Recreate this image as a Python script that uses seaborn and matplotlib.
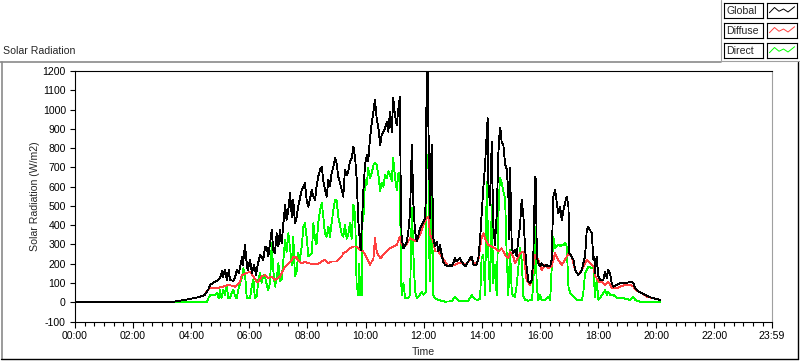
import numpy as np
import pandas as pd
import seaborn as sns
import matplotlib.pyplot as plt
from matplotlib.lines import Line2D
from matplotlib.ticker import FixedLocator

# ---- data (time in decimal hours, radiation in W/m2) ----
global_hour = [
    0.00, 3.27, 3.79, 4.30, 4.47, 4.58, 4.65, 4.75, 4.89, 4.99, 5.06, 5.09, 5.16, 5.23, 5.30, 5.33,
    5.44, 5.51, 5.57, 5.64, 5.68, 5.75, 5.78, 5.85, 5.92, 5.95, 6.02, 6.09, 6.16, 6.23, 6.30, 6.37,
    6.42, 6.48, 6.54, 6.60, 6.65, 6.71, 6.77, 6.82, 6.88, 6.94, 7.00, 7.05, 7.11, 7.17, 7.23, 7.28,
    7.34, 7.40, 7.46, 7.51, 7.57, 7.63, 7.68, 7.80, 7.86, 7.91, 7.97, 8.03, 8.15, 8.20, 8.26, 8.31,
    8.37, 8.43, 8.49, 8.54, 8.60, 8.66, 8.72, 8.77, 8.83, 8.89, 8.95, 9.00, 9.06, 9.12, 9.18, 9.23,
    9.29, 9.35, 9.40, 9.46, 9.52, 9.58, 9.64, 9.69, 9.75, 9.81, 9.83, 9.87, 9.92, 9.98, 10.04, 10.09,
    10.15, 10.21, 10.27, 10.32, 10.38, 10.44, 10.50, 10.55, 10.61, 10.67, 10.73, 10.78, 10.84, 10.90,
    10.95, 11.01, 11.07, 11.13, 11.18, 11.21, 11.24, 11.30, 11.36, 11.42, 11.47, 11.53, 11.59, 11.64,
    11.70, 11.76, 11.82, 11.87, 11.93, 11.99, 12.04, 12.07, 12.10, 12.14, 12.16, 12.18, 12.22, 12.27,
    12.33, 12.39, 12.45, 12.50, 12.56, 12.62, 12.67, 12.73, 12.85, 12.90, 12.96, 13.08, 13.13, 13.25,
    13.30, 13.42, 13.47, 13.59, 13.65, 13.71, 13.82, 13.88, 13.94, 13.99, 14.05, 14.11, 14.17, 14.20,
    14.22, 14.28, 14.34, 14.39, 14.45, 14.51, 14.57, 14.62, 14.65, 14.68, 14.74, 14.80, 14.85, 14.91,
    14.94, 14.97, 15.03, 15.08, 15.14, 15.20, 15.25, 15.31, 15.37, 15.43, 15.49, 15.54, 15.60, 15.66,
    15.72, 15.77, 15.83, 15.86, 15.89, 15.94, 16.00, 16.06, 16.17, 16.23, 16.29, 16.35, 16.40, 16.46,
    16.52, 16.58, 16.63, 16.69, 16.75, 16.81, 16.86, 16.92, 16.98, 17.01, 17.09, 17.15, 17.21, 17.32,
    17.38, 17.44, 17.49, 17.55, 17.61, 17.66, 17.72, 17.78, 17.84, 17.87, 17.89, 17.95, 18.01, 18.07,
    18.18, 18.24, 18.30, 18.35, 18.41, 18.47, 18.52, 18.64, 18.76, 18.87, 19.03, 19.16, 19.21, 19.27,
    19.39, 19.56, 19.73, 19.90, 20.13,
]
global_wm2 = [
    0, 0, 12, 28, 38, 64, 90, 100, 111, 126, 162, 131, 168, 116, 168, 116,
    111, 131, 168, 152, 183, 235, 194, 297, 183, 168, 220, 152, 194, 141, 204, 245,
    237, 220, 289, 280, 237, 306, 375, 271, 254, 358, 289, 375, 306, 410, 505, 427,
    479, 566, 444, 531, 410, 444, 496, 583, 600, 618, 531, 496, 583, 548, 531, 600,
    652, 687, 704, 635, 583, 548, 635, 600, 670, 704, 747, 721, 652, 618, 583, 548,
    687, 661, 678, 730, 747, 808, 747, 644, 418, 297, 271, 401, 574, 713, 764, 730,
    851, 929, 989, 1050, 955, 903, 816, 868, 885, 903, 937, 885, 989, 885,
    1059, 972, 920, 1007, 1067, 540, 332, 280, 297, 315, 366, 470, 816, 522,
    366, 315, 349, 384, 401, 418, 436, 531, 1180, 1197, 920, 764, 436, 816,
    332, 289, 315, 263, 297, 245, 211, 194, 185, 194, 185, 228, 211, 228,
    211, 185, 194, 228, 237, 194, 194, 228, 332, 453, 592, 713, 885, 955,
    626, 505, 834, 401, 297, 453, 782, 903, 885, 834, 816, 713, 695, 574,
    330, 695, 280, 254, 271, 237, 323, 392, 531, 444, 271, 185, 107, 99,
    116, 237, 652, 635, 237, 202, 185, 202, 185, 194, 185, 185, 220, 548,
    583, 514, 462, 496, 427, 479, 514, 548, 496, 254, 237, 220, 168, 141,
    151, 168, 202, 237, 375, 392, 375, 358, 220, 237, 151, 237, 133, 116,
    116, 159, 125, 168, 151, 99, 81, 90, 99, 99, 102, 107, 99, 73,
    55, 43, 29, 21, 12,
]

diffuse_hour = [
    0.00, 3.27, 3.79, 4.30, 4.47, 4.53, 4.65, 4.88, 5.10, 5.28, 5.51, 5.68, 5.74, 5.91, 6.02, 6.14,
    6.25, 6.31, 6.42, 6.54, 6.65, 6.77, 6.88, 7.05, 7.23, 7.34, 7.46, 7.51, 7.57, 7.68, 7.80, 7.91,
    8.03, 8.15, 8.37, 8.49, 8.60, 8.72, 8.83, 9.00, 9.18, 9.23, 9.35, 9.46, 9.58, 9.69, 9.81, 9.92,
    10.04, 10.15, 10.27, 10.32, 10.38, 10.50, 10.61, 10.73, 10.84, 10.95, 11.07, 11.18, 11.24, 11.36,
    11.53, 11.64, 11.76, 11.87, 11.99, 12.10, 12.16, 12.22, 12.33, 12.39, 12.50, 12.62, 12.73, 12.85,
    12.96, 13.08, 13.19, 13.30, 13.42, 13.53, 13.65, 13.76, 13.88, 13.99, 14.05, 14.11, 14.22, 14.34,
    14.45, 14.57, 14.68, 14.80, 14.91, 14.97, 15.08, 15.14, 15.20, 15.31, 15.43, 15.54, 15.66, 15.72,
    15.77, 15.83, 15.94, 16.06, 16.17, 16.29, 16.40, 16.52, 16.63, 16.75, 16.86, 16.98, 17.09, 17.21,
    17.32, 17.44, 17.61, 17.72, 17.84, 17.89, 18.01, 18.13, 18.24, 18.35, 18.47, 18.64, 18.81, 18.98,
    19.10, 19.21, 19.33, 19.50, 19.67, 19.90, 20.13,
]
diffuse_wm2 = [
    0, 0, 12, 28, 38, 55, 73, 73, 81, 90, 81, 107, 141, 151, 159, 133,
    107, 107, 133, 141, 125, 133, 116, 133, 185, 202, 220, 237, 237, 220, 202, 211,
    202, 199, 199, 211, 220, 202, 211, 211, 237, 254, 263, 280, 289, 289, 271, 263,
    228, 194, 228, 332, 263, 228, 245, 263, 280, 289, 297, 340, 297, 289,
    332, 323, 315, 349, 401, 436, 444, 349, 315, 263, 263, 237, 211, 185,
    194, 194, 202, 202, 194, 211, 228, 194, 220, 332, 358, 332, 297, 289,
    280, 263, 280, 245, 228, 263, 237, 202, 220, 254, 263, 116, 90, 116,
    185, 245, 220, 168, 194, 176, 185, 254, 220, 194, 220, 254, 237, 168,
    141, 168, 220, 202, 185, 141, 107, 107, 90, 107, 73, 73, 85, 90,
    90, 81, 60, 47, 29, 21, 12,
]

direct_hour = [
    0.00, 4.53, 4.59, 4.65, 4.80, 4.88, 4.94, 4.99, 5.04, 5.10, 5.16, 5.22, 5.28, 5.33, 5.39, 5.45,
    5.51, 5.56, 5.62, 5.68, 5.74, 5.79, 5.85, 5.91, 6.02, 6.08, 6.14, 6.19, 6.25, 6.31, 6.37, 6.42,
    6.48, 6.54, 6.60, 6.65, 6.71, 6.77, 6.82, 6.88, 6.94, 7.00, 7.05, 7.11, 7.23, 7.28, 7.34, 7.40,
    7.46, 7.51, 7.57, 7.63, 7.68, 7.74, 7.80, 7.86, 7.91, 7.97, 8.03, 8.15, 8.20, 8.26, 8.31, 8.37,
    8.43, 8.49, 8.54, 8.60, 8.66, 8.72, 8.77, 8.83, 8.89, 8.95, 9.00, 9.06, 9.12, 9.18, 9.23, 9.29,
    9.35, 9.40, 9.46, 9.52, 9.58, 9.64, 9.69, 9.75, 9.78, 9.81, 9.87, 9.90, 9.92, 9.98, 10.04, 10.09,
    10.15, 10.21, 10.27, 10.32, 10.38, 10.44, 10.50, 10.55, 10.61, 10.67, 10.73, 10.78, 10.84, 10.90,
    10.95, 11.01, 11.07, 11.13, 11.18, 11.21, 11.24, 11.30, 11.36, 11.47, 11.53, 11.59, 11.64, 11.70,
    11.76, 11.87, 11.93, 11.99, 12.07, 12.10, 12.14, 12.16, 12.18, 12.22, 12.27, 12.33, 12.39, 12.50,
    12.73, 12.96, 13.08, 13.19, 13.30, 13.53, 13.65, 13.76, 13.88, 13.94, 13.99, 14.05, 14.11, 14.17,
    14.22, 14.28, 14.34, 14.39, 14.45, 14.51, 14.57, 14.62, 14.68, 14.74, 14.80, 14.85, 14.91, 14.97,
    15.03, 15.08, 15.14, 15.20, 15.25, 15.31, 15.37, 15.43, 15.49, 15.60, 15.72, 15.77, 15.83, 15.89,
    15.94, 16.00, 16.06, 16.17, 16.29, 16.35, 16.40, 16.46, 16.52, 16.58, 16.63, 16.69, 16.75, 16.81,
    16.86, 16.92, 16.98, 17.04, 17.15, 17.26, 17.44, 17.49, 17.55, 17.61, 17.66, 17.72, 17.78, 17.84,
    17.89, 17.95, 18.01, 18.18, 18.24, 18.30, 18.35, 18.41, 18.52, 18.64, 18.87, 19.10, 19.21, 19.27,
    19.44, 20.13,
]
direct_wm2 = [
    0, 0, 21, 38, 38, 47, 21, 64, 21, 64, 38, 81, 21, 21, 47, 64,
    30, 21, 64, 99, 125, 176, 150, 21, 21, 81, 116, 21, 30, 116, 151, 100,
    140, 133, 90, 64, 100, 306, 170, 81, 120, 202, 110, 120, 323, 260, 358, 280,
    190, 340, 133, 160, 254, 220, 290, 392, 410, 340, 237, 254, 410, 330, 300, 410,
    479, 514, 450, 358, 340, 392, 340, 410, 479, 531, 531, 444, 400, 350, 340, 400,
    330, 349, 410, 330, 505, 453, 90, 38, 200, 38, 38, 574, 420, 635, 610, 695,
    645, 670, 713, 721, 713, 660, 574, 620, 600, 661, 645, 680, 660, 630,
    747, 650, 583, 670, 670, 200, 38, 99, 21, 21, 38, 488, 263, 60,
    21, 38, 55, 38, 55, 764, 730, 713, 300, 107, 574, 38, 21, 12,
    3, 5, 29, 8, 5, 5, 38, 15, 12, 20, 228, 245, 38, 626,
    250, 55, 505, 100, 194, 38, 453, 645, 620, 574, 540, 263, 38, 271,
    47, 30, 29, 90, 170, 280, 220, 29, 12, 8, 12, 90, 392, 81,
    12, 38, 12, 12, 29, 12, 168, 340, 280, 289, 300, 289, 300, 297,
    310, 289, 81, 47, 29, 12, 12, 47, 151, 170, 185, 185, 176, 185,
    29, 116, 12, 47, 64, 38, 55, 38, 38, 24, 21, 12, 29, 12,
    3, 0,
]

series_names = ["Global", "Diffuse", "Direct"]
series_colors = ["#000000", "#ff4040", "#00ff00"]

x_major = [0, 2, 4, 6, 8, 10, 12, 14, 16, 18, 20, 22, 23 + 59 / 60]
x_major_labels = ["00:00", "02:00", "04:00", "06:00", "08:00", "10:00", "12:00",
                  "14:00", "16:00", "18:00", "20:00", "22:00", "23:59"]
y_ticks = list(range(-100, 1201, 100))

df = pd.concat([
    pd.DataFrame({"hour": global_hour, "wm2": global_wm2, "series": "Global"}),
    pd.DataFrame({"hour": diffuse_hour, "wm2": diffuse_wm2, "series": "Diffuse"}),
    pd.DataFrame({"hour": direct_hour, "wm2": direct_wm2, "series": "Direct"}),
], ignore_index=True)

sns.set_theme(style="white")
plt.rcParams['font.family'] = ['Liberation Sans', 'DejaVu Sans']
FS = 7.6

W, H = 800, 361
fig = plt.figure(figsize=(W / 100, H / 100), dpi=100)
fig.patch.set_facecolor("white")


def fx(px):
    return px / W


def fy(py):
    return 1 - py / H


ax = fig.add_axes([fx(75), fy(321.5), (772 - 75) / W, (321.5 - 71) / H])
palette = dict(zip(series_names, series_colors))
# direct drawn first, global on top
sns.lineplot(data=df, x="hour", y="wm2", hue="series", hue_order=["Direct", "Diffuse", "Global"],
             palette=palette, estimator=None, sort=False, legend=False, linewidth=0.6,
             antialiased=False, ax=ax)

ax.set_xlim(0, 23 + 59 / 60)
ax.set_ylim(-100, 1200)
ax.set_facecolor("white")
ax.grid(False)

for side in ["left", "top", "bottom"]:
    ax.spines[side].set_color("black")
    ax.spines[side].set_linewidth(0.8)
ax.spines["right"].set_color("#a0a0a0")
ax.spines["right"].set_linewidth(0.8)

ax.set_yticks(y_ticks)
ax.set_yticklabels([str(v) for v in y_ticks])
ax.xaxis.set_major_locator(FixedLocator(x_major))
ax.set_xticklabels(x_major_labels)
ax.xaxis.set_minor_locator(FixedLocator(list(np.arange(0, 24, 1 / 3))))
ax.tick_params(axis="y", which="major", direction="out", length=3.6, width=0.8,
               colors="black", labelsize=FS, pad=3, left=True)
ax.tick_params(axis="x", which="major", direction="out", length=4.5, width=0.8,
               colors="black", labelsize=FS, pad=2.5, bottom=True)
ax.tick_params(axis="x", which="minor", direction="out", length=2.8, width=0.8,
               colors="black", bottom=True)

ax.set_xlabel("Time", fontsize=FS)
ax.xaxis.label.set_verticalalignment("center")
ax.xaxis.set_label_coords(0.5, (321.5 - 352) / 250.5)
ax.set_ylabel("Solar Radiation (W/m2)", fontsize=FS)
ax.yaxis.label.set_verticalalignment("center")
ax.yaxis.set_label_coords((34.5 - 75) / 697, 0.5)

fig.text(fx(3), fy(51), "Solar Radiation", fontsize=FS, ha="left", va="center")

# outer frame
frame_gray = "#8a8a8a"
fig.add_artist(Line2D([fx(0), fx(721)], [fy(61.5), fy(61.5)], color=frame_gray, lw=1.2))
fig.add_artist(Line2D([fx(1.5), fx(1.5)], [fy(61.5), fy(359)], color=frame_gray, lw=1.2))
fig.add_artist(Line2D([fx(1), fx(798)], [fy(359), fy(359)], color="black", lw=1.0))
fig.add_artist(Line2D([fx(798), fx(798)], [fy(61.5), fy(359)], color="black", lw=1.0))
# legend panel
fig.add_artist(Line2D([fx(721), fx(721)], [fy(0), fy(60.5)], color="#a0a0a0", lw=0.8))
fig.add_artist(Line2D([fx(721), fx(800)], [fy(60.5), fy(60.5)], color="#a0a0a0", lw=0.8))

zig_x = [0.08, 0.25, 0.4, 0.55, 0.7, 0.92]
zig_y = [0.35, 0.7, 0.45, 0.6, 0.4, 0.75]
for i, (name, color) in enumerate(zip(series_names, series_colors)):
    top = 3 + 20 * i
    tax = fig.add_axes([fx(724), fy(top + 15), 39 / W, 15 / H])
    sax = fig.add_axes([fx(767), fy(top + 15), 30 / W, 15 / H])
    for a in (tax, sax):
        a.set_xticks([])
        a.set_yticks([])
        a.set_xlim(0, 1)
        a.set_ylim(0, 1)
        a.set_facecolor("white")
        for s in a.spines.values():
            s.set_color("black")
            s.set_linewidth(0.8)
    tax.text(0.06, 0.45, name, fontsize=FS, ha="left", va="center")
    sax.plot(zig_x, zig_y, color=color, lw=0.7)

fig.savefig("out.png", dpi=100)
